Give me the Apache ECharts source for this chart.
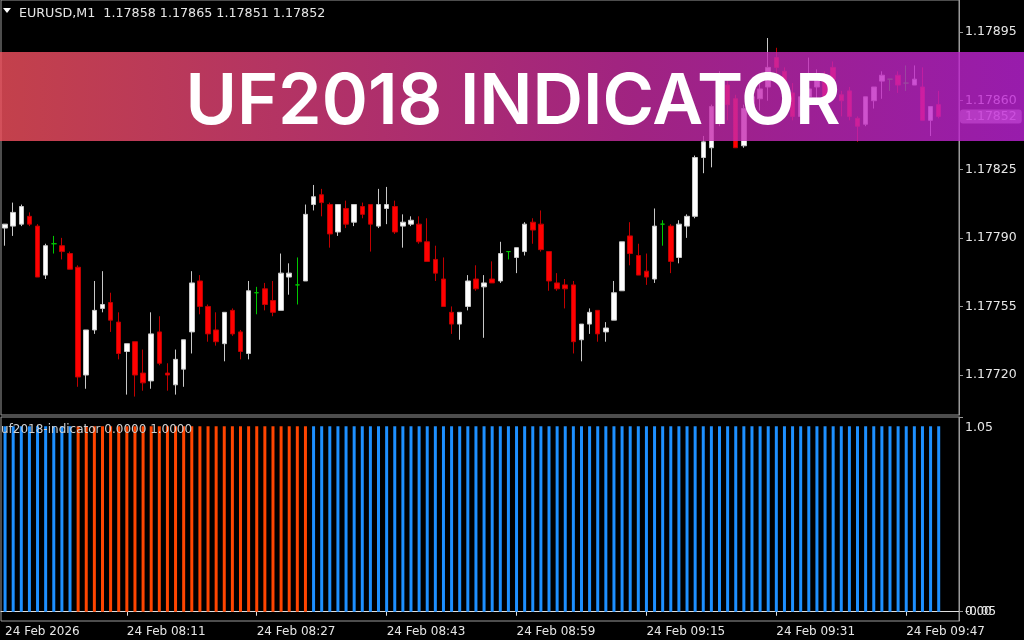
<!DOCTYPE html>
<html><head><meta charset="utf-8">
<script src="https://cdn.jsdelivr.net/npm/echarts@6/dist/echarts.min.js"></script>
<style>html,body{margin:0;padding:0;background:#000}#c{width:1024px;height:640px}</style>
</head><body><div id="c"></div>
<script>
const symbolName = 'EURUSD,M1';
const dateLabel = '24 Feb';
const firstLabel = '24 Feb 2026';
const times = ['07:56','07:57','07:58','07:59',
'08:00','08:01','08:02','08:03','08:04','08:05','08:06','08:07','08:08','08:09','08:10','08:11','08:12','08:13','08:14','08:15','08:16','08:17','08:18','08:19','08:20','08:21','08:22','08:23','08:24','08:25','08:26','08:27','08:28','08:29','08:30','08:31','08:32','08:33','08:34','08:35','08:36','08:37','08:38','08:39','08:40','08:41','08:42','08:43','08:44','08:45','08:46','08:47','08:48','08:49','08:50','08:51','08:52','08:53','08:54','08:55','08:56','08:57','08:58','08:59',
'09:00','09:01','09:02','09:03','09:04','09:05','09:06','09:07','09:08','09:09','09:10','09:11','09:12','09:13','09:14','09:15','09:16','09:17','09:18','09:19','09:20','09:21','09:22','09:23','09:24','09:25','09:26','09:27','09:28','09:29','09:30','09:31','09:32','09:33','09:34','09:35','09:36','09:37','09:38','09:39','09:40','09:41','09:42','09:43','09:44','09:45','09:46','09:47','09:48','09:49','09:50','09:51','09:52','09:53'];
const labelIdx = [0,15,31,47,63,79,95,111];

const opens = [1.17795,1.17796,1.17797,1.17801,1.17796,1.17771,1.17787,1.17786,1.17782,1.17775,
1.17720,1.17743,1.17754,1.17757,1.17747,1.17732,1.17737,1.17721,1.17717,1.17742,
1.17721,1.17715,1.17723,1.17742,1.17768,1.17755,1.17743,1.17736,1.17753,1.17742,
1.17731,1.17762,1.17764,1.17758,1.17753,1.17770,1.17766,1.17768,1.17807,1.17812,
1.17807,1.17793,1.17805,1.17798,1.17806,1.17807,1.17796,1.17805,1.17806,1.17796,
1.17797,1.17797,1.17788,1.17779,1.17769,1.17752,1.17746,1.17755,1.17769,1.17765,
1.17769,1.17768,1.17783,1.17780,1.17783,1.17798,1.17797,1.17783,1.17767,1.17766,
1.17766,1.17738,1.17746,1.17753,1.17742,1.17748,1.17763,1.17791,1.17781,1.17773,
1.17769,1.17797,1.17796,1.17780,1.17796,1.17801,1.17831,1.17836,1.17858,1.17868,
1.17861,1.17837,1.17855,1.17861,1.17867,1.17882,1.17875,1.17864,1.17852,1.17862,
1.17867,1.17873,1.17877,1.17863,1.17865,1.17851,1.17848,1.17860,1.17870,1.17871,
1.17873,1.17869,1.17868,1.17867,1.17850,1.17858];
const highs = [1.17797,1.17808,1.17807,1.17803,1.17797,1.17787,1.17791,1.17790,1.17783,1.17776,
1.17743,1.17768,1.17773,1.17762,1.17752,1.17736,1.17737,1.17733,1.17752,1.17750,
1.17726,1.17733,1.17738,1.17773,1.17771,1.17756,1.17752,1.17752,1.17754,1.17743,
1.17768,1.17765,1.17767,1.17768,1.17782,1.17777,1.17780,1.17807,1.17817,1.17815,
1.17808,1.17807,1.17809,1.17807,1.17808,1.17807,1.17815,1.17816,1.17809,1.17802,
1.17801,1.17801,1.17800,1.17786,1.17780,1.17755,1.17752,1.17771,1.17776,1.17771,
1.17778,1.17788,1.17783,1.17785,1.17798,1.17800,1.17804,1.17783,1.17772,1.17769,
1.17768,1.17746,1.17754,1.17753,1.17747,1.17768,1.17788,1.17798,1.17787,1.17782,
1.17805,1.17799,1.17797,1.17799,1.17802,1.17832,1.17842,1.17858,1.17875,1.17871,
1.17863,1.17858,1.17863,1.17871,1.17892,1.17887,1.17877,1.17869,1.17863,1.17882,
1.17876,1.17875,1.17880,1.17865,1.17867,1.17852,1.17862,1.17867,1.17875,1.17871,
1.17875,1.17878,1.17878,1.17877,1.17857,1.17865];
const lows = [1.17786,1.17791,1.17796,1.17796,1.17770,1.17769,1.17782,1.17779,1.17774,1.17714,
1.17713,1.17741,1.17752,1.17742,1.17728,1.17710,1.17709,1.17712,1.17713,1.17725,
1.17712,1.17710,1.17714,1.17731,1.17751,1.17737,1.17735,1.17727,1.17740,1.17728,
1.17728,1.17751,1.17753,1.17750,1.17753,1.17761,1.17756,1.17768,1.17804,1.17801,
1.17785,1.17791,1.17795,1.17796,1.17800,1.17783,1.17795,1.17797,1.17792,1.17785,
1.17796,1.17787,1.17778,1.17768,1.17755,1.17741,1.17738,1.17753,1.17763,1.17739,
1.17767,1.17767,1.17779,1.17772,1.17781,1.17787,1.17783,1.17763,1.17763,1.17754,
1.17731,1.17727,1.17741,1.17737,1.17737,1.17748,1.17763,1.17776,1.17771,1.17766,
1.17767,1.17786,1.17772,1.17777,1.17790,1.17800,1.17823,1.17826,1.17847,1.17850,
1.17836,1.17836,1.17852,1.17855,1.17860,1.17874,1.17855,1.17850,1.17848,1.17857,
1.17859,1.17858,1.17868,1.17852,1.17850,1.17839,1.17847,1.17856,1.17861,1.17865,
1.17864,1.17865,1.17868,1.17850,1.17842,1.17851];
const closes = [1.17797,1.17803,1.17806,1.17797,1.17770,1.17786,1.17787,1.17783,1.17774,1.17719,
1.17743,1.17753,1.17756,1.17748,1.17731,1.17736,1.17720,1.17716,1.17741,1.17726,
1.17720,1.17728,1.17738,1.17767,1.17755,1.17741,1.17737,1.17752,1.17741,1.17732,
1.17763,1.17762,1.17756,1.17752,1.17772,1.17772,1.17766,1.17802,1.17811,1.17808,
1.17792,1.17807,1.17797,1.17807,1.17802,1.17797,1.17807,1.17807,1.17793,1.17798,
1.17799,1.17788,1.17778,1.17772,1.17755,1.17746,1.17752,1.17768,1.17764,1.17767,
1.17767,1.17782,1.17783,1.17785,1.17797,1.17794,1.17784,1.17768,1.17764,1.17764,
1.17737,1.17746,1.17752,1.17741,1.17744,1.17762,1.17788,1.17782,1.17771,1.17770,
1.17796,1.17797,1.17778,1.17797,1.17801,1.17831,1.17839,1.17857,1.17866,1.17858,
1.17836,1.17856,1.17862,1.17866,1.17877,1.17877,1.17865,1.17852,1.17862,1.17866,
1.17872,1.17860,1.17871,1.17860,1.17852,1.17847,1.17862,1.17867,1.17873,1.17871,
1.17868,1.17869,1.17871,1.17850,1.17857,1.17852];

const priceTicks = [1.17720,1.17755,1.17790,1.17825,1.17860,1.17895];

const ufDown = [
0,0,0,0,0,0,0,0,0,
1,1,1,1,1,1,1,1,1,1,
1,1,1,1,1,1,1,1,1,1,
1,1,1,1,1,1,1,1,1,
0,0,0,0,0,0,0,0,0,0,
0,0,0,0,0,0,0,0,0,0,
0,0,0,0,0,0,0,0,0,0,
0,0,0,0,0,0,0,0,0,0,
0,0,0,0,0,0,0,0,0,0,
0,0,0,0,0,0,0,0,0,0,
0,0,0,0,0,0,0,0,0,0,
0,0,0,0,0,0,0,0];
const ufUp = [
1,1,1,1,1,1,1,1,1,
0,0,0,0,0,0,0,0,0,0,
0,0,0,0,0,0,0,0,0,0,
0,0,0,0,0,0,0,0,0,
1,1,1,1,1,1,1,1,1,1,
1,1,1,1,1,1,1,1,1,1,
1,1,1,1,1,1,1,1,1,1,
1,1,1,1,1,1,1,1,1,1,
1,1,1,1,1,1,1,1,1,1,
1,1,1,1,1,1,1,1,1,1,
1,1,1,1,1,1,1,1,1,1,
1,1,1,1,1,1,1,1];
const ufAxisLabels = {top: 1.05, zero: 0, bottom: -0.05};
const bannerText = 'UF2018 INDICATOR';

const chart = echarts.init(document.getElementById('c'), null, {renderer:'canvas'});
const txt = '#e6e6e6';
const fontF = 'DejaVu Sans';
const last = closes.length - 1;
const candles = opens.map((o,i)=>[o, closes[i], lows[i], highs[i]]);
const fmtP = v => v.toFixed(5);
const header = symbolName + '  ' + [opens[last],highs[last],lows[last],closes[last]].map(fmtP).join(' ');
const indLabel = 'uf2018-indicator ' + ufDown[last].toFixed(4) + ' ' + ufUp[last].toFixed(4);

const option = {
  backgroundColor:'#000',
  animation:false,
  axisPointer:{triggerOn:'none'},
  grid:[
    {left:1, right:65, top:0, height:415, show:true, borderColor:'#9a9a9a', borderWidth:1},
    {left:1, right:65, top:417, height:204, show:true, borderColor:'#9a9a9a', borderWidth:1}
  ],
  xAxis:[
    {type:'category', gridIndex:0, data:times, axisLine:{show:false}, axisTick:{show:false}, axisLabel:{show:false}, splitLine:{show:false}},
    {type:'category', gridIndex:1, data:times,
     axisLine:{show:true, lineStyle:{color:'#e0e0e0', width:1}},
     axisTick:{show:true, alignWithLabel:true, length:4, interval:(i)=>labelIdx.includes(i) && i>0, lineStyle:{color:'#e0e0e0'}},
     axisLabel:{show:true, interval:(i)=>labelIdx.includes(i), align:'left', color:txt, fontSize:12, fontFamily:fontF, margin:5,
       formatter:(v,i)=> i===0 ? firstLabel : dateLabel + ' ' + v},
     splitLine:{show:false}}
  ],
  yAxis:[
    {type:'value', gridIndex:0, position:'right', min:1.176996, max:1.179114, scale:true,
     axisLine:{show:true, lineStyle:{color:'#9a9a9a'}},
     axisTick:{show:true, customValues:priceTicks, length:4, lineStyle:{color:'#9a9a9a'}},
     axisLabel:{show:true, customValues:priceTicks, formatter:fmtP, color:txt, fontSize:12.5, fontFamily:fontF, margin:6},
     splitLine:{show:false},
     axisPointer:{show:true, value:closes[last], status:'show', triggerTooltip:false, type:'line', snap:false,
       lineStyle:{color:'rgba(0,0,0,0)', width:0},
       label:{show:true, formatter:(p)=>fmtP(p.value), backgroundColor:'#8c8c8c', color:'#ffffff', fontSize:12.5, fontFamily:fontF, padding:[1,5,0,5], margin:1, shadowBlur:0}}},
    {type:'value', gridIndex:1, position:'right', min:ufAxisLabels.bottom, max:ufAxisLabels.top,
     axisLine:{show:true, lineStyle:{color:'#9a9a9a'}},
     axisTick:{show:true, customValues:[ufAxisLabels.top, ufAxisLabels.zero], length:4, lineStyle:{color:'#9a9a9a'}},
     axisLabel:{show:true, customValues:[ufAxisLabels.top], verticalAlign:'top', padding:[4,0,0,0], formatter:v=>v.toFixed(2), color:txt, fontSize:12.5, fontFamily:fontF, margin:6},
     splitLine:{show:false}},
    {type:'value', gridIndex:1, position:'right', min:ufAxisLabels.bottom, max:ufAxisLabels.top,
     axisLine:{show:false}, axisTick:{show:false},
     axisLabel:{show:true, customValues:[ufAxisLabels.zero], formatter:v=>v.toFixed(2), color:txt, fontSize:12, fontFamily:fontF, margin:6},
     splitLine:{show:false}},
    {type:'value', gridIndex:1, position:'right', min:ufAxisLabels.bottom, max:ufAxisLabels.top,
     axisLine:{show:false}, axisTick:{show:false},
     axisLabel:{show:true, customValues:[ufAxisLabels.bottom], verticalAlign:'bottom', padding:[0,0,3,0], formatter:v=>v.toFixed(2), color:txt, fontSize:12, fontFamily:fontF, margin:6},
     splitLine:{show:false}}
  ],
  series:[
    {type:'candlestick', xAxisIndex:0, yAxisIndex:0, data:candles, barWidth:5,
     itemStyle:{color:'#ffffff', color0:'#ff0000', borderColor:'#c8c8c8', borderColor0:'#c00000', borderColorDoji:'#00c800', borderWidth:1}},
    {type:'bar', xAxisIndex:1, yAxisIndex:1, data:ufUp, barWidth:3, barGap:'-100%', itemStyle:{color:'#1e90ff'}},
    {type:'bar', xAxisIndex:1, yAxisIndex:1, data:ufDown, barWidth:3, barGap:'-100%', itemStyle:{color:'#ff4500'}}
  ],
  graphic:[
    {type:'polygon', z:50, shape:{points:[[3,8],[11,8],[7,13]]}, style:{fill:'#ffffff'}},
    {type:'text', z:50, x:19, y:14, style:{text:header, fill:txt, font:'12.7px "DejaVu Sans"', align:'left', verticalAlign:'middle'}},
    {type:'text', z:50, x:1, y:430, style:{text:indLabel, fill:'#cfcfcf', font:'12px "DejaVu Sans"', align:'left', verticalAlign:'middle'}},
    {type:'rect', z:100, shape:{x:0, y:52, width:1024, height:89},
     style:{fill:new echarts.graphic.LinearGradient(0,0,1,0,[{offset:0,color:'#f4515e'},{offset:0.62,color:'#c82ca2'},{offset:1,color:'#be23d7'}]), opacity:0.8}},
    {type:'text', z:101, x:513, y:103, style:{text:bannerText, fill:'#ffffff', font:'600 70px Inter', align:'center', verticalAlign:'middle'}}
  ]
};
chart.setOption(option);
</script></body></html>
